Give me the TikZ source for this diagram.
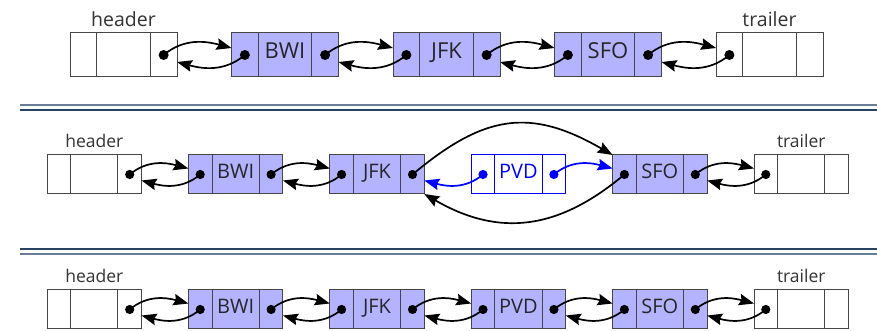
\documentclass[tikz,border=0pt]{standalone}
\usepackage{fontspec}
\setsansfont{Open Sans}
\renewcommand{\familydefault}{\sfdefault}
\usetikzlibrary{positioning, arrows.meta}

\definecolor{nodefill}{RGB}{179,179,255}
\definecolor{edgegray}{RGB}{70,70,70}
\definecolor{sepa}{RGB}{105,125,150}
\definecolor{sepb}{RGB}{40,65,100}

% one list node: prev | element | next
\newcommand{\dllbox}[4]{%
  \node[cell, side, #2, #4] (#1-p) {};
  \node[cell, mid, right=0pt of #1-p, #4] (#1) {#3};
  \node[cell, side, right=0pt of #1, #4] (#1-n) {};
}
% next and prev pointers between two neighbours
\newcommand{\dlllink}[2]{%
  \fill (#1-n.center) circle (\dotr);
  \fill (#2-p.center) circle (\dotr);
  \draw[ptr] (#1-n.center) to[out=40, in=165] ([yshift=\tipsh]#2-p.west);
  \draw[ptr] (#2-p.center) to[out=-140, in=-15] ([yshift=-\tipsh]#1-n.east);
}

\begin{document}
\begin{tikzpicture}[
    cell/.style={draw=edgegray, line width=1pt, inner sep=0pt, outer sep=0pt, text=black!85},
    side/.style={minimum width=\sidew, minimum height=\cellh},
    mid/.style={minimum width=\midw, minimum height=\cellh, font=\boxfont, text height=0.72em, text depth=0pt},
    filled/.style={fill=nodefill},
    plain/.style={fill=white},
    newbox/.style={draw=blue, fill=white, text=blue},
    tag/.style={inner sep=0pt, text=black!80, font=\tagfont},
    ptr/.style={line width=1.7pt, -{Stealth[length=15pt, width=11.5pt, inset=2pt]}},
  ]
  \useasboundingbox (0,0) rectangle (877pt,331pt);

  % before
  \def\sidew{26.75pt}\def\midw{53.5pt}\def\cellh{44pt}\def\gap{54.5pt}
  \def\dotr{5pt}\def\tipsh{7pt}
  \def\boxfont{\fontsize{22}{24}\selectfont}\def\tagfont{\fontsize{19.5}{22}\selectfont}
  \dllbox{t-hdr}{anchor=west, at={(70pt,276pt)}}{}{plain}
  \dllbox{t-bwi}{right=\gap of t-hdr-n}{BWI}{filled}
  \dllbox{t-jfk}{right=\gap of t-bwi-n}{JFK}{filled}
  \dllbox{t-sfo}{right=\gap of t-jfk-n}{SFO}{filled}
  \dllbox{t-trl}{right=\gap of t-sfo-n}{}{plain}
  \node[tag, above=6.5pt of t-hdr] (t-hdr-tag) {header};
  \node[tag, above=6.5pt of t-trl] (t-trl-tag) {trailer};
  \dlllink{t-hdr}{t-bwi}
  \dlllink{t-bwi}{t-jfk}
  \dlllink{t-jfk}{t-sfo}
  \dlllink{t-sfo}{t-trl}

  \draw[sepa, line width=2pt] (20pt,226pt) -- (877pt,226pt);
  \draw[sepb, line width=2pt] (20pt,220.5pt) -- (877pt,220.5pt);

  % inserting PVD
  \def\sidew{23.6pt}\def\midw{47.3pt}\def\cellh{39pt}\def\gap{46.9pt}
  \def\dotr{4.6pt}\def\tipsh{6pt}
  \def\boxfont{\fontsize{20}{22}\selectfont}\def\tagfont{\fontsize{17.5}{20}\selectfont}
  \dllbox{m-hdr}{anchor=west, at={(47pt,156.5pt)}}{}{plain}
  \dllbox{m-bwi}{right=\gap of m-hdr-n}{BWI}{filled}
  \dllbox{m-jfk}{right=\gap of m-bwi-n}{JFK}{filled}
  \dllbox{m-pvd}{right=\gap of m-jfk-n}{PVD}{newbox}
  \dllbox{m-sfo}{right=\gap of m-pvd-n}{SFO}{filled}
  \dllbox{m-trl}{right=\gap of m-sfo-n}{}{plain}
  \node[tag, above=7pt of m-hdr] (m-hdr-tag) {header};
  \node[tag, above=7pt of m-trl] (m-trl-tag) {trailer};
  \dlllink{m-hdr}{m-bwi}
  \dlllink{m-bwi}{m-jfk}
  \dlllink{m-sfo}{m-trl}
  \fill (m-jfk-n.center) circle (\dotr);
  \fill (m-sfo-p.center) circle (\dotr);
  \draw[ptr] (m-jfk-n.center) to[out=40, in=150, looseness=1.2] (m-sfo-p.north west);
  \draw[ptr] (m-sfo-p.center) to[out=-140, in=-30, looseness=1.1] (m-jfk-n.south east);
  \fill[blue] (m-pvd-p.center) circle (\dotr);
  \fill[blue] (m-pvd-n.center) circle (\dotr);
  \draw[ptr, blue] (m-pvd-p.center) to[out=-140, in=-15] ([yshift=-\tipsh]m-jfk-n.east);
  \draw[ptr, blue] (m-pvd-n.center) to[out=40, in=165] ([yshift=\tipsh]m-sfo-p.west);

  \draw[sepb, line width=2pt] (20pt,82pt) -- (877pt,82pt);
  \draw[sepa, line width=2pt] (20pt,77pt) -- (877pt,77pt);

  % after
  \dllbox{b-hdr}{anchor=west, at={(47pt,21.5pt)}}{}{plain}
  \dllbox{b-bwi}{right=\gap of b-hdr-n}{BWI}{filled}
  \dllbox{b-jfk}{right=\gap of b-bwi-n}{JFK}{filled}
  \dllbox{b-pvd}{right=\gap of b-jfk-n}{PVD}{filled}
  \dllbox{b-sfo}{right=\gap of b-pvd-n}{SFO}{filled}
  \dllbox{b-trl}{right=\gap of b-sfo-n}{}{plain}
  \node[tag, above=7pt of b-hdr] (b-hdr-tag) {header};
  \node[tag, above=7pt of b-trl] (b-trl-tag) {trailer};
  \dlllink{b-hdr}{b-bwi}
  \dlllink{b-bwi}{b-jfk}
  \dlllink{b-jfk}{b-pvd}
  \dlllink{b-pvd}{b-sfo}
  \dlllink{b-sfo}{b-trl}
\end{tikzpicture}
\end{document}
